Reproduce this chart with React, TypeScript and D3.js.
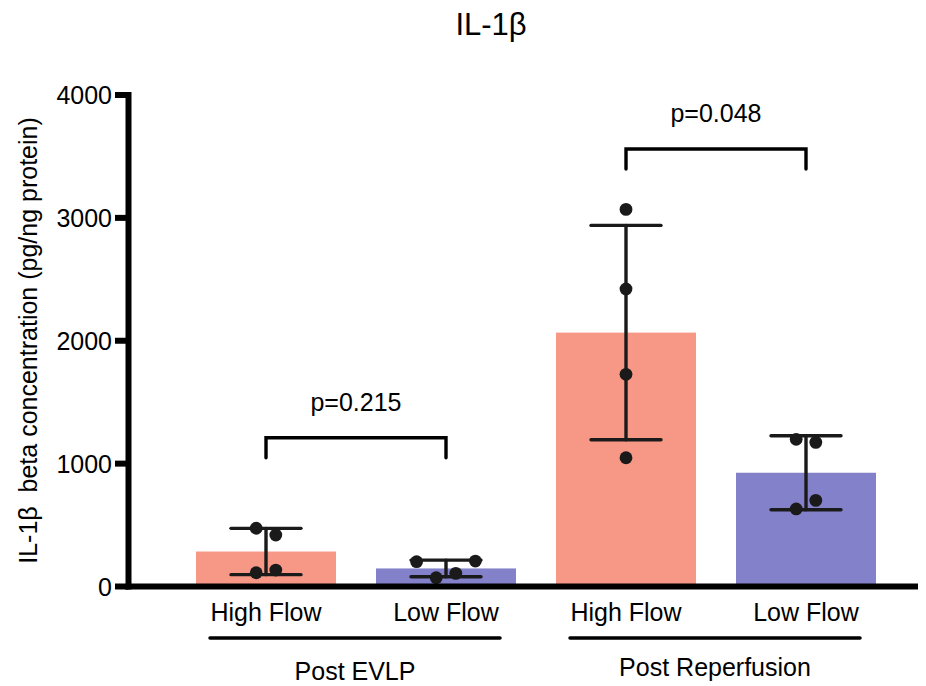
import React from "react";
import * as d3 from "d3";

const title = "IL-1β";
const yLabel = "IL-1β  beta concentration (pg/ng protein)";
const categories = ["High Flow", "Low Flow", "High Flow", "Low Flow"];
const groups = ["Post EVLP", "Post Reperfusion"];
const groupOf = [0, 0, 1, 1];
const points: number[][] = [
  [474, 419, 112, 134],
  [202, 207, 72, 107],
  [3069, 2421, 1727, 1048],
  [1198, 1173, 701, 631],
];
// horizontal jitter slot of each point (in units of dot spacing)
const jitterSlots: number[][] = [
  [-1, 1, -1, 1],
  [-3, 3, -1, 1],
  [0, 0, 0, 0],
  [-1, 1, 1, -1],
];
const barColors = ["#F79886", "#8481CB", "#F79886", "#8481CB"];
const yTicks = [0, 1000, 2000, 3000, 4000];
const pLabels = ["p=0.215", "p=0.048"];
const bracketValues = [1211, 3560];
const bracketPairs = [
  [0, 1],
  [2, 3],
];

const W = 926;
const H = 686;
const FONT = "'Liberation Sans', Arial, Helvetica, sans-serif";
const INK = "#1a1a1a";

export default function App() {
  const y = d3.scaleLinear().domain([0, 4000]).range([586.5, 95]);
  const x = d3
    .scaleBand<number>()
    .domain(d3.range(categories.length))
    .range([176, 896])
    .paddingInner(40 / 180)
    .paddingOuter(20 / 180);
  const bw = x.bandwidth();
  const cx = (i: number) => (x(i) as number) + bw / 2;
  const axisX = 128.5;
  const dotStep = 9.8;

  const stats = points.map((p) => {
    const m = d3.mean(p) as number;
    const s = d3.deviation(p) as number;
    return { m, lo: m - s, hi: m + s };
  });

  return (
    <svg width={W} height={H} style={{ position: "absolute", left: 0, top: 0, background: "#fff" }} fontFamily={FONT}>
      <rect x={0} y={0} width={W} height={H} fill="#fff" />
      <text x={491} y={35} fontSize={31} textAnchor="middle" fill="#000">
        {title}
      </text>
      {/* y label */}
      <text
        transform={`translate(28,${(95 + 586) / 2}) rotate(-90)`}
        fontSize={25}
        textAnchor="middle"
        dominantBaseline="central"
        fill="#000"
        style={{ whiteSpace: "pre" }}
      >
        {yLabel}
      </text>
      {/* bars */}
      {stats.map((s, i) => (
        <rect key={"b" + i} x={x(i)} y={y(s.m)} width={bw} height={y(0) - y(s.m)} fill={barColors[i]} />
      ))}
      {/* error bars */}
      {stats.map((s, i) => (
        <g key={"e" + i} stroke={INK} strokeWidth={3.4} strokeLinecap="round">
          <line x1={cx(i)} x2={cx(i)} y1={y(s.hi)} y2={y(s.lo)} />
          <line x1={cx(i) - 35} x2={cx(i) + 35} y1={y(s.hi)} y2={y(s.hi)} />
          <line x1={cx(i) - 35} x2={cx(i) + 35} y1={y(s.lo)} y2={y(s.lo)} />
        </g>
      ))}
      {/* points */}
      {points.map((p, i) =>
        p.map((v, j) => (
          <circle key={`p${i}-${j}`} cx={cx(i) + jitterSlots[i][j] * dotStep} cy={y(v)} r={6.4} fill={INK} />
        ))
      )}
      {/* axes */}
      <line x1={axisX} x2={axisX} y1={y(4000) - 3} y2={y(0) + 3} stroke="#000" strokeWidth={6} />
      <line x1={axisX - 3} x2={918} y1={y(0)} y2={y(0)} stroke="#000" strokeWidth={6} />
      {yTicks.map((t) => (
        <g key={"t" + t}>
          <line x1={115} x2={axisX} y1={y(t)} y2={y(t)} stroke="#000" strokeWidth={6} />
          <text x={112} y={y(t)} fontSize={25} textAnchor="end" dominantBaseline="central" fill="#000">
            {t}
          </text>
        </g>
      ))}
      {/* category labels */}
      {categories.map((c, i) => (
        <text key={"c" + i} x={cx(i)} y={621} fontSize={25} textAnchor="middle" fill="#000">
          {c}
        </text>
      ))}
      {/* group underlines and labels */}
      {groups.map((g, gi) => {
        const idx = d3.range(categories.length).filter((i) => groupOf[i] === gi);
        const x1 = cx(idx[0]) - 56;
        const x2 = cx(idx[idx.length - 1]) + 54;
        return (
          <g key={"g" + gi}>
            <line x1={x1} x2={x2} y1={638} y2={638} stroke="#000" strokeWidth={3.5} strokeLinecap="round" />
            <text x={(x1 + x2) / 2} y={gi === 0 ? 680 : 676} fontSize={25} textAnchor="middle" fill="#000">
              {g}
            </text>
          </g>
        );
      })}
      {/* significance brackets */}
      {bracketPairs.map((pr, k) => {
        const yb = y(bracketValues[k]);
        const a = cx(pr[0]);
        const b = cx(pr[1]);
        return (
          <g key={"s" + k}>
            <path
              d={`M${a},${yb + 20}V${yb}H${b}V${yb + 20}`}
              fill="none"
              stroke="#000"
              strokeWidth={3.4}
              strokeLinecap="round"
            />
            <text x={(a + b) / 2} y={yb - 27} fontSize={25} textAnchor="middle" fill="#000">
              {pLabels[k]}
            </text>
          </g>
        );
      })}
    </svg>
  );
}
